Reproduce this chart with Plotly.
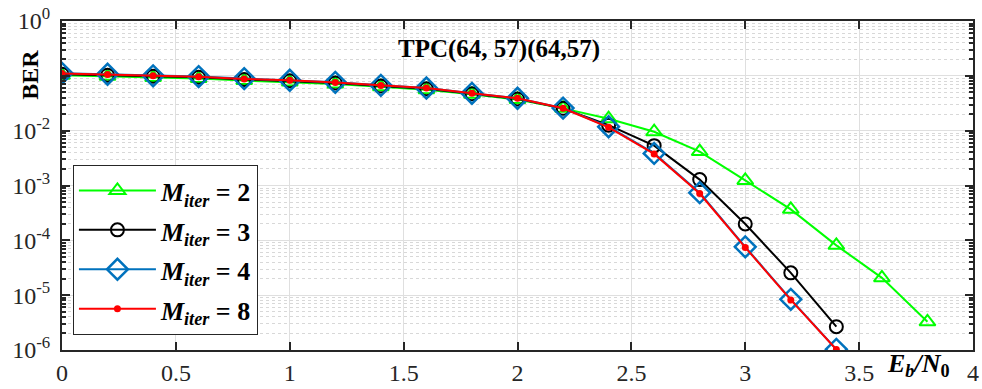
import plotly.graph_objects as go

# ---------------- data ----------------
ebn0_m2 = [0.0, 0.2, 0.4, 0.6, 0.8, 1.0, 1.2, 1.4, 1.6, 1.8, 2.0, 2.2, 2.4, 2.6, 2.8, 3.0, 3.2, 3.4, 3.6, 3.8]
ber_m2 = [0.102, 0.098, 0.093, 0.089, 0.082, 0.077, 0.071, 0.063, 0.056, 0.046, 0.037, 0.0255,
          0.0165, 0.00955, 0.00415, 0.00124, 3.67e-4, 8.1e-5, 2.07e-5, 3.27e-6]

ebn0_m3 = [0.0, 0.2, 0.4, 0.6, 0.8, 1.0, 1.2, 1.4, 1.6, 1.8, 2.0, 2.2, 2.4, 2.6, 2.8, 3.0, 3.2, 3.4]
ber_m3 = [0.107, 0.103, 0.098, 0.094, 0.086, 0.081, 0.074, 0.065, 0.058, 0.047, 0.038, 0.0255,
          0.0126, 0.00533, 0.00128, 1.99e-4, 2.55e-5, 2.66e-6]

ebn0_m4 = [0.0, 0.2, 0.4, 0.6, 0.8, 1.0, 1.2, 1.4, 1.6, 1.8, 2.0, 2.2, 2.4, 2.6, 2.8, 3.0, 3.2, 3.4]
ber_m4 = [0.111, 0.107, 0.100, 0.097, 0.089, 0.083, 0.076, 0.067, 0.060, 0.048, 0.039, 0.0258,
          0.0118, 0.00385, 7.4e-4, 7.6e-5, 8.4e-6, 1.03e-6]

ebn0_m8 = [0.0, 0.2, 0.4, 0.6, 0.8, 1.0, 1.2, 1.4, 1.6, 1.8, 2.0, 2.2, 2.4, 2.6, 2.8, 3.0, 3.2, 3.4]
ber_m8 = [0.110, 0.106, 0.100, 0.096, 0.088, 0.083, 0.0757, 0.0668, 0.0597, 0.0479, 0.0389, 0.0256,
          0.0115, 0.00377, 7.14e-4, 7.44e-5, 8.2e-6, 1.02e-6]

series_names = ["<span style='font-size:26px'><b><i>M</i><sub><i>iter</i></sub> = 2</b></span>",
                "<span style='font-size:26px'><b><i>M</i><sub><i>iter</i></sub> = 3</b></span>",
                "<span style='font-size:26px'><b><i>M</i><sub><i>iter</i></sub> = 4</b></span>",
                "<span style='font-size:26px'><b><i>M</i><sub><i>iter</i></sub> = 8</b></span>"]

x_ticks = [0, 0.5, 1, 1.5, 2, 2.5, 3, 3.5, 4]
x_ticktext = ["0", "0.5", "1", "1.5", "2", "2.5", "3", "3.5", "4"]
y_ticks = [1e-6, 1e-5, 1e-4, 1e-3, 1e-2, 1e-1, 1e0]
y_ticktext = ["10<sup>-6</sup>", "10<sup>-5</sup>", "10<sup>-4</sup>", "10<sup>-3</sup>",
              "10<sup>-2</sup>", "", "10<sup>0</sup>"]

title_text = "<b>TPC(64, 57)(64,57)</b>"
ylabel_text = "<b>BER</b>"
xlabel_text = "<b><i>E</i><sub><i>b</i></sub><i>/N</i><sub>0</sub></b>"

# minor decades for the log axis
y_minor = [m * 10.0 ** e for e in range(-6, 0) for m in range(2, 10)]

FONT = "Liberation Serif, Times New Roman, serif"

fig = go.Figure()

fig.add_trace(go.Scatter(
    x=ebn0_m2, y=ber_m2, name=series_names[0], mode="lines+markers",
    line=dict(color="#00FF00", width=2),
    marker=dict(symbol="triangle-up-open", size=14, color="#00FF00", line=dict(width=2, color="#00FF00")),
))
fig.add_trace(go.Scatter(
    x=ebn0_m3, y=ber_m3, name=series_names[1], mode="lines+markers",
    line=dict(color="#000000", width=2),
    marker=dict(symbol="circle-open", size=13, color="#000000", line=dict(width=2, color="#000000")),
))
fig.add_trace(go.Scatter(
    x=ebn0_m4, y=ber_m4, name=series_names[2], mode="lines+markers",
    line=dict(color="#0072BD", width=2),
    marker=dict(symbol="diamond-open", size=16, color="#0072BD", line=dict(width=2.5, color="#0072BD")),
))
fig.add_trace(go.Scatter(
    x=ebn0_m8, y=ber_m8, name=series_names[3], mode="lines+markers",
    line=dict(color="#FF0000", width=2),
    marker=dict(symbol="circle", size=7, color="#FF0000"),
))

fig.update_layout(
    width=982, height=389,
    margin=dict(l=62, r=3, t=21, b=36),
    paper_bgcolor="white", plot_bgcolor="white",
    font=dict(family=FONT, size=20, color="#262626"),
    showlegend=True,
    legend=dict(
        x=0.012, y=0.563, xanchor="left", yanchor="top",
        bgcolor="white", bordercolor="#262626", borderwidth=1,
        font=dict(family=FONT, size=28, color="#000000"),
        tracegroupgap=0, itemwidth=77,
    ),
    xaxis=dict(
        range=[0, 4], tickvals=x_ticks, ticktext=x_ticktext,
        showgrid=True, gridcolor="#DFDFDF", gridwidth=1,
        showline=True, linecolor="#262626", linewidth=2, mirror="ticks",
        ticks="inside", ticklen=8, tickwidth=1.5, tickcolor="#262626",
        zeroline=False, ticklabeloverflow="allow",
        tickfont=dict(family=FONT, size=24, color="#262626"),
    ),
    yaxis=dict(
        type="log", range=[-6, 0], tickvals=y_ticks, ticktext=y_ticktext,
        showgrid=True, gridcolor="#DFDFDF", gridwidth=1,
        showline=True, linecolor="#262626", linewidth=2, mirror="ticks",
        ticks="inside", ticklen=8, tickwidth=1.5, tickcolor="#262626",
        zeroline=False, ticklabelstandoff=5,
        tickfont=dict(family=FONT, size=24, color="#262626"),
        minor=dict(tickvals=y_minor, ticks="inside", ticklen=4, tickcolor="#262626",
                   showgrid=True, gridcolor="#D8D8D8", griddash="dot", gridwidth=1),
    ),
)

fig.add_annotation(text=title_text, xref="paper", yref="paper", x=0.48, y=0.916,
                   xanchor="center", yanchor="middle",
                   showarrow=False, font=dict(family=FONT, size=25, color="#000000"))
fig.add_annotation(text=ylabel_text, xref="paper", yref="paper", x=-0.035, y=0.837,
                   xanchor="center", yanchor="middle",
                   textangle=-90, showarrow=False, font=dict(family=FONT, size=24, color="#000000"))
fig.add_annotation(text=xlabel_text, xref="paper", yref="paper", x=0.94, y=-0.045,
                   xanchor="center", yanchor="middle",
                   showarrow=False, font=dict(family=FONT, size=26, color="#000000"))

fig.write_html("out.html", config={"displayModeBar": False},
               post_script="document.body.style.margin='0';document.body.style.padding='0';")
